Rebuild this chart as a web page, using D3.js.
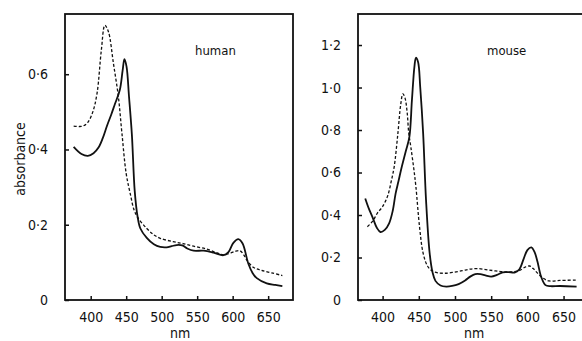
<!DOCTYPE html>
<html>
<head>
<meta charset="utf-8">
<script src="https://cdn.jsdelivr.net/npm/d3@7"></script>
<style>
  body { margin: 0; background: #fff; }
  text { font-family: "DejaVu Sans Condensed", "DejaVu Sans", sans-serif; fill: #111; }
</style>
</head>
<body>
<div id="chart"></div>
<script>
// wavelength ticks (nm) shared by both panels
const nmTicks = [400, 450, 500, 550, 600, 650];
const humanTicks = [0, 0.2, 0.4, 0.6];
const mouseTicks = [0, 0.2, 0.4, 0.6, 0.8, 1.0, 1.2];

// human spectra: [nm, absorbance]
const humanSolid = [
  [376, 0.407], [387, 0.388], [396, 0.383], [404, 0.39], [411, 0.405], [417, 0.43], [423, 0.463],
  [429, 0.493], [434, 0.52], [441, 0.558], [445, 0.61], [447.5, 0.64], [450.5, 0.62],
  [454, 0.54], [458, 0.44], [462, 0.29], [466, 0.222], [470, 0.19], [479, 0.165],
  [489, 0.148], [498, 0.141], [507, 0.140], [514, 0.143], [521, 0.146], [529, 0.145],
  [536, 0.137], [545, 0.131], [559, 0.131], [573, 0.126], [587, 0.119], [594, 0.127],
  [601, 0.152], [608, 0.162], [614, 0.150], [622, 0.097], [628, 0.072], [634, 0.058],
  [648, 0.044], [660, 0.04], [670, 0.037]
];
const humanDashed = [
  [376, 0.462], [384, 0.461], [390, 0.463], [396, 0.472], [403, 0.5], [409, 0.55],
  [415, 0.664], [420, 0.73], [425, 0.713], [432, 0.629], [439, 0.54], [444, 0.443],
  [450, 0.336], [456, 0.28], [461, 0.24], [466, 0.22], [479, 0.19], [489, 0.173],
  [498, 0.164], [516, 0.155], [530, 0.15], [545, 0.143], [564, 0.135], [578, 0.125],
  [587, 0.12], [596, 0.124], [603, 0.129], [610, 0.131], [615, 0.122], [620, 0.106],
  [629, 0.087], [640, 0.079], [655, 0.072], [670, 0.065]
];

// mouse spectra: [nm, absorbance]
const mouseSolid = [
  [376, 0.478], [381, 0.43], [386, 0.39], [392, 0.34], [397, 0.32], [403, 0.33],
  [409, 0.361], [414, 0.42], [418, 0.502], [422, 0.56], [426, 0.62], [432, 0.7],
  [437, 0.768], [440.5, 0.94], [444, 1.1], [446, 1.14], [449, 1.12], [452, 1.0],
  [456, 0.784], [460, 0.47], [465, 0.22], [469, 0.13], [473, 0.09], [480, 0.068],
  [488, 0.063], [496, 0.066], [505, 0.075], [514, 0.092], [521, 0.11], [528, 0.122],
  [535, 0.122], [542, 0.116], [550, 0.11], [558, 0.118], [566, 0.13], [574, 0.131],
  [583, 0.13], [589, 0.145], [595, 0.195], [600, 0.235], [605.5, 0.248], [610, 0.225],
  [614, 0.18], [619, 0.11], [625, 0.07], [632, 0.065], [645, 0.066], [668, 0.063]
];
const mouseDashed = [
  [379, 0.345], [386, 0.37], [393, 0.41], [400, 0.44], [407, 0.49], [412, 0.56],
  [416, 0.627], [421, 0.78], [425, 0.92], [428, 0.97], [431, 0.95], [434, 0.88],
  [436, 0.79], [439, 0.72], [443, 0.62], [446, 0.533], [451, 0.345], [456, 0.22],
  [462, 0.16], [468, 0.138], [476, 0.128], [486, 0.126], [497, 0.13], [510, 0.138],
  [520, 0.145], [530, 0.148], [547, 0.141], [566, 0.133], [582, 0.133], [590, 0.14],
  [597, 0.155], [603, 0.16], [608, 0.148], [613, 0.13], [622, 0.102], [630, 0.09],
  [645, 0.092], [668, 0.094]
];

const svg = d3.select("#chart")
  .append("svg")
  .attr("width", 582)
  .attr("height", 341);

const fmt = d => d === 0 ? "0" : d.toFixed(1).replace(".", "\u00b7");

function drawPanel(opts) {
  const { left, right, xDomain, yMax, yTicks, solid, dashed, label, labelX } = opts;
  const top = 14, bottom = 300;

  const x = d3.scaleLinear().domain(xDomain).range([left, right]);
  const y = d3.scaleLinear().domain([0, yMax]).range([bottom, top]);

  const g = svg.append("g");

  // frame
  g.append("rect")
    .attr("x", left)
    .attr("y", top)
    .attr("width", right - left)
    .attr("height", bottom - top)
    .attr("fill", "none")
    .attr("stroke", "#111")
    .attr("stroke-width", 1.8);

  // inward ticks
  const xAxis = g.append("g")
    .attr("transform", `translate(0, ${bottom})`)
    .call(d3.axisBottom(x).tickValues(nmTicks).tickSize(-4).tickPadding(12).tickFormat(d3.format("d")));

  const yAxis = g.append("g")
    .attr("transform", `translate(${left}, 0)`)
    .call(d3.axisLeft(y).tickValues(yTicks).tickSize(-4).tickPadding(17).tickFormat(fmt));

  [xAxis, yAxis].forEach(a => {
    a.select(".domain").remove();
    a.selectAll("line").attr("stroke", "#111").attr("stroke-width", 1.5);
    a.selectAll("text").style("font-size", "14px").attr("fill", "#111");
  });

  const line = d3.line()
    .x(d => x(d[0]))
    .y(d => y(d[1]))
    .curve(d3.curveCatmullRom);

  g.append("path")
    .datum(dashed)
    .attr("fill", "none")
    .attr("stroke", "#111")
    .attr("stroke-width", 1.3)
    .attr("stroke-dasharray", "3,2")
    .attr("d", line);

  g.append("path")
    .datum(solid)
    .attr("fill", "none")
    .attr("stroke", "#111")
    .attr("stroke-width", 1.8)
    .attr("d", line);

  // species label
  g.append("text")
    .attr("x", labelX)
    .attr("y", 55)
    .attr("fill", "#111")
    .style("font-size", "13px")
    .text(label);

  // x-axis label
  g.append("text")
    .attr("x", x(550) - 17)
    .attr("y", 338)
    .attr("text-anchor", "middle")
    .attr("fill", "#111")
    .style("font-size", "14px")
    .text("nm");
}

drawPanel({
  left: 65, right: 293, xDomain: [363.8, 685],
  yMax: 0.76, yTicks: humanTicks,
  solid: humanSolid, dashed: humanDashed,
  label: "human", labelX: 195
});

drawPanel({
  left: 358, right: 586, xDomain: [366, 681],
  yMax: 1.346, yTicks: mouseTicks,
  solid: mouseSolid, dashed: mouseDashed,
  label: "mouse", labelX: 487
});

// y-axis label
svg.append("text")
  .attr("transform", "translate(25, 159) rotate(-90)")
  .attr("text-anchor", "middle")
  .attr("fill", "#111")
  .style("font-size", "14px")
  .text("absorbance");
</script>
</body>
</html>
